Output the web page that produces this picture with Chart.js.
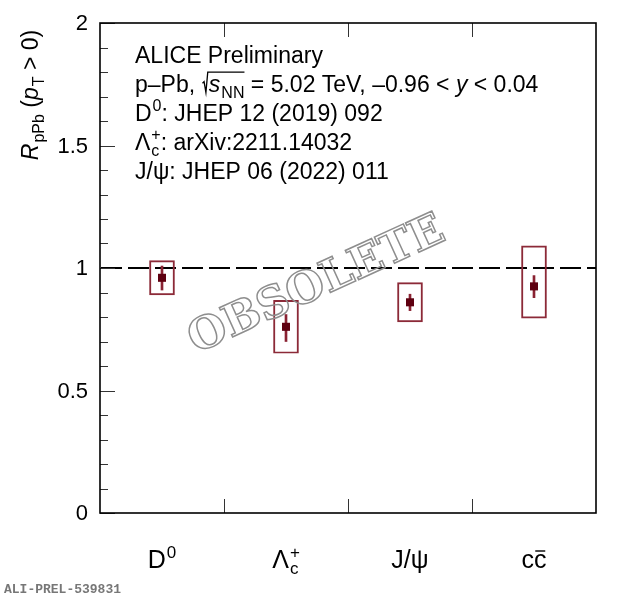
<!DOCTYPE html>
<html>
<head>
<meta charset="utf-8">
<script src="https://cdn.jsdelivr.net/npm/chart.js@4"></script>
<style>
  html, body { margin: 0; padding: 0; background: #fff; }
  #wrap { width: 620px; height: 599px; position: relative; }
</style>
</head>
<body>
<div id="wrap"><canvas id="rpPbChart" width="620" height="599"></canvas></div>
<script>
// Species, one bin each on x (bins 0-1, 1-2, 2-3, 3-4)
const species = ["D0", "Lc", "Jpsi", "ccbar"];
const binCenters = [0.5, 1.5, 2.5, 3.5];

// R_pPb (pT > 0) central values
const rpPb = [0.96, 0.76, 0.86, 0.925];
// statistical uncertainty (low / high edges)
const statLow = [0.91, 0.70, 0.826, 0.879];
const statHigh = [1.008, 0.81, 0.893, 0.969];
// systematic boxes (low / high edges)
const systLow = [0.89, 0.652, 0.78, 0.795];
const systHigh = [1.03, 0.868, 0.94, 1.09];

// y axis ticks
const yMajorTicks = [0, 0.5, 1, 1.5, 2];
const yTickLabels = ["0", "0.5", "1", "1.5", "2"];
const xDividers = [1, 2, 3];

const FONT = "'Liberation Sans', Arial, Helvetica, sans-serif";
const MARKER = "#5e0010";
const BOX = "#8c2a38";
const STAT = "#8a2232";

/**
 * Draw a run of text pieces with sub / superscripts.
 * piece: {t, i (italic), sub, sup, sqrt: [pieces], bar}
 */
function richWidth(ctx, pieces, fs) {
  let w = 0;
  pieces.forEach((p) => {
    if (p.sqrt) {
      w += fs * 0.32 + richWidth(ctx, p.sqrt, fs);
      return;
    }
    ctx.font = (p.i ? "italic " : "") + fs + "px " + FONT;
    let base = p.t ? ctx.measureText(p.t).width : 0;
    let extra = 0;
    ctx.font = Math.round(fs * 0.68) + "px " + FONT;
    if (p.sub) extra = Math.max(extra, ctx.measureText(p.sub).width);
    if (p.sup) extra = Math.max(extra, ctx.measureText(p.sup).width);
    w += base + extra + (p.sub || p.sup ? 1 : 0);
  });
  return w;
}

function drawRich(ctx, pieces, x, y, fs) {
  ctx.textBaseline = "alphabetic";
  ctx.textAlign = "left";
  pieces.forEach((p) => {
    if (p.sqrt) {
      const inner = richWidth(ctx, p.sqrt, fs);
      const r = fs * 0.32;
      ctx.save();
      ctx.strokeStyle = "#000";
      ctx.lineWidth = 1.3;
      ctx.beginPath();
      ctx.moveTo(x + 1, y - fs * 0.38);
      ctx.lineTo(x + r * 0.35, y - fs * 0.45);
      ctx.lineTo(x + r * 0.6, y + fs * 0.02);
      ctx.lineTo(x + r * 0.85, y - fs * 0.86);
      ctx.lineTo(x + r + inner, y - fs * 0.86);
      ctx.stroke();
      ctx.restore();
      x = drawRich(ctx, p.sqrt, x + r, y, fs);
      return;
    }
    ctx.font = (p.i ? "italic " : "") + fs + "px " + FONT;
    if (p.t) {
      ctx.fillText(p.t, x, y);
      const tw = ctx.measureText(p.t).width;
      if (p.bar) {
        ctx.save();
        ctx.lineWidth = 1.4;
        ctx.beginPath();
        ctx.moveTo(x + tw * 0.1, y - fs * 0.68);
        ctx.lineTo(x + tw * 0.9, y - fs * 0.68);
        ctx.strokeStyle = "#000";
        ctx.stroke();
        ctx.restore();
      }
      x += tw;
    }
    const sfs = Math.round(fs * 0.68);
    ctx.font = sfs + "px " + FONT;
    let extra = 0;
    if (p.sub) {
      ctx.fillText(p.sub, x + 1, y + fs * 0.25);
      extra = Math.max(extra, ctx.measureText(p.sub).width + 1);
    }
    if (p.sup) {
      ctx.fillText(p.sup, x + 1, y - fs * 0.42);
      extra = Math.max(extra, ctx.measureText(p.sup).width + 1);
    }
    x += extra;
  });
  return x;
}

const categoryLabels = [
  [{ t: "D", sup: "0" }],
  [{ t: "\u039B", sub: "c", sup: "+" }],
  [{ t: "J/\u03C8" }],
  [{ t: "c" }, { t: "c", bar: true }],
];

const infoLines = [
  [{ t: "ALICE Preliminary" }],
  [
    { t: "p\u2013Pb, " },
    { sqrt: [{ t: "s", i: true, sub: "NN" }] },
    { t: " = 5.02 TeV, \u20130.96 < " },
    { t: "y", i: true },
    { t: " < 0.04" },
  ],
  [{ t: "D", sup: "0" }, { t: ": JHEP 12 (2019) 092" }],
  [{ t: "\u039B", sub: "c", sup: "+" }, { t: ": arXiv:2211.14032" }],
  [{ t: "J/\u03C8: JHEP 06 (2022) 011" }],
];

const yTitle = [
  { t: "R", i: true, sub: "pPb" },
  { t: " (" },
  { t: "p", i: true, sub: "T" },
  { t: " > 0)" },
];

const framePlugin = {
  id: "rootFrame",
  beforeDatasetsDraw(chart) {
    const { ctx, chartArea: a, scales } = chart;
    const ys = scales.y;
    const y1 = ys.getPixelForValue(1);
    ctx.save();
    ctx.strokeStyle = "#000";
    ctx.lineWidth = 2;
    ctx.setLineDash([21, 6]);
    ctx.beginPath();
    ctx.moveTo(a.left + 1, y1);
    ctx.lineTo(a.right, y1);
    ctx.stroke();
    ctx.restore();
  },
  afterDatasetsDraw(chart) {
    const { ctx, chartArea: a, scales } = chart;
    const xs = scales.x;
    const ys = scales.y;
    ctx.save();

    // watermark
    ctx.save();
    ctx.translate(317, 286);
    ctx.rotate((-24.5 * Math.PI) / 180);
    ctx.font = "bold 44px 'DejaVu Serif', 'Liberation Serif', serif";
    ctx.textAlign = "center";
    ctx.textBaseline = "middle";
    ctx.strokeStyle = "#8e8e8e";
    ctx.lineWidth = 1.5;
    ctx.strokeText("OBSOLETE", 0, 0);
    ctx.restore();

    // y ticks
    ctx.strokeStyle = "#333";
    ctx.lineWidth = 1;
    for (let k = 0; k <= 20; k++) {
      const v = k / 10;
      const py = Math.round(ys.getPixelForValue(v)) + 0.5;
      const len = k % 5 === 0 ? 15 : 8;
      ctx.beginPath();
      ctx.moveTo(a.left, py);
      ctx.lineTo(a.left + len, py);
      ctx.stroke();
    }
    // x dividers (ticks top and bottom)
    xDividers.forEach((v) => {
      const px = Math.round(xs.getPixelForValue(v)) + 0.5;
      ctx.beginPath();
      ctx.moveTo(px, a.bottom);
      ctx.lineTo(px, a.bottom - 14);
      ctx.moveTo(px, a.top);
      ctx.lineTo(px, a.top + 14);
      ctx.stroke();
    });

    // frame
    ctx.strokeStyle = "#000";
    ctx.lineWidth = 1.6;
    ctx.strokeRect(a.left, a.top, a.right - a.left, a.bottom - a.top);

    // y tick labels
    ctx.fillStyle = "#000";
    ctx.font = "22px " + FONT;
    ctx.textAlign = "right";
    ctx.textBaseline = "middle";
    yMajorTicks.forEach((v, i) => {
      ctx.fillText(yTickLabels[i], a.left - 12, ys.getPixelForValue(v) + 1);
    });

    // category labels
    categoryLabels.forEach((pieces, i) => {
      const w = richWidth(ctx, pieces, 25);
      const cx = xs.getPixelForValue(binCenters[i]);
      drawRich(ctx, pieces, cx - w / 2, 568, 25);
    });

    // y title
    ctx.save();
    ctx.translate(38, 95);
    ctx.rotate(-Math.PI / 2);
    const tw = richWidth(ctx, yTitle, 23);
    drawRich(ctx, yTitle, -tw / 2, 0, 23);
    ctx.restore();

    // info text
    infoLines.forEach((pieces, i) => {
      drawRich(ctx, pieces, 135, 63 + i * 29, 23);
    });

    // preliminary id
    ctx.fillStyle = "#777";
    ctx.font = "bold 13px 'Liberation Mono', 'DejaVu Sans Mono', monospace";
    ctx.textAlign = "left";
    ctx.textBaseline = "alphabetic";
    ctx.fillText("ALI-PREL-539831", 4, 593);
    ctx.restore();
  },
};

const systData = binCenters.map((x, i) => ({ x: x, y: [systLow[i], systHigh[i]] }));
const statData = binCenters.map((x, i) => ({ x: x, y: [statLow[i], statHigh[i]] }));
const pointData = binCenters.map((x, i) => ({ x: x, y: rpPb[i] }));

new Chart(document.getElementById("rpPbChart").getContext("2d"), {
  type: "bar",
  data: {
    datasets: [
      {
        label: "syst",
        data: systData,
        backgroundColor: "rgba(0,0,0,0)",
        borderColor: BOX,
        borderWidth: 1.3,
        borderSkipped: false,
        barThickness: 25,
        grouped: false,
        order: 3,
      },
      {
        label: "stat",
        data: statData,
        backgroundColor: STAT,
        borderWidth: 0,
        barThickness: 2,
        grouped: false,
        order: 2,
      },
      {
        type: "scatter",
        label: "RpPb",
        data: pointData,
        pointStyle: "rect",
        pointRadius: 5.7,
        pointHoverRadius: 5.7,
        backgroundColor: MARKER,
        borderColor: MARKER,
        borderWidth: 0,
        order: 1,
      },
    ],
  },
  options: {
    responsive: false,
    animation: false,
    events: [],
    layout: { padding: { left: 100, right: 24, top: 23, bottom: 86 } },
    plugins: { legend: { display: false }, tooltip: { enabled: false } },
    scales: {
      x: { type: "linear", min: 0, max: 4, offset: false, display: false },
      y: { type: "linear", min: 0, max: 2, display: false },
    },
  },
  plugins: [framePlugin],
});
</script>
</body>
</html>
